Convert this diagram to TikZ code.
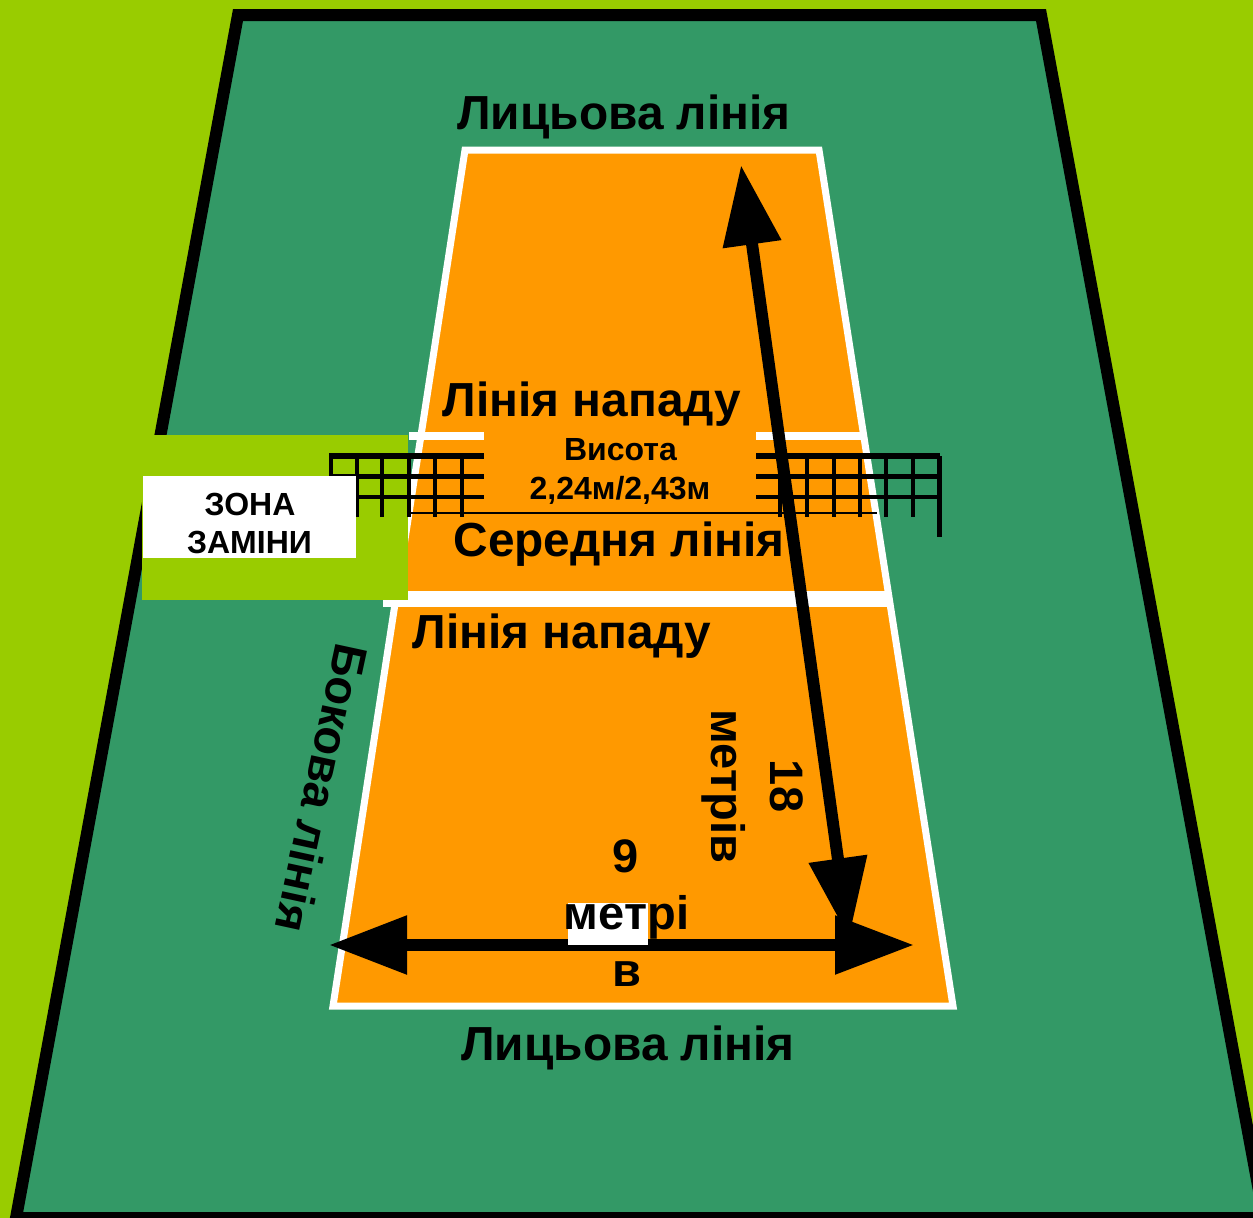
\documentclass[tikz,border=0pt]{standalone}
\usepackage{fontspec}
\setmainfont{Liberation Sans}
\usetikzlibrary{arrows.meta}
\definecolor{bgreen}{HTML}{99CC00}
\definecolor{field}{HTML}{339966}
\definecolor{court}{HTML}{FF9900}
\tikzset{
  lbl/.style={inner sep=0pt,font=\bfseries\fontsize{47.8}{47.8}\selectfont,text=black},
  lblm/.style={inner sep=0pt,font=\bfseries\fontsize{47}{47}\selectfont,text=black},
  lbls/.style={inner sep=0pt,font=\bfseries\fontsize{32}{32}\selectfont,text=black},
  lblz/.style={inner sep=0pt,font=\bfseries\fontsize{32}{32}\selectfont,text=black},
  netthick/.style={line width=6pt},
  netline/.style={line width=4.5pt},
  bigarrow/.style={line width=12pt},
}
\begin{document}
\begin{tikzpicture}[x=1pt,y=-1pt]
\useasboundingbox (0,0) rectangle (1253,1218);
\clip (0,0) rectangle (1253,1218);
\fill[bgreen] (0,0) rectangle (1253,1218);
% field
\draw[fill=field,line width=12pt,miter limit=10] (238,15) -- (1041,15) -- (1264,1218) -- (16,1218) -- cycle;
% court
\draw[fill=court,draw=white,line width=7pt] (465,150) -- (819,150) -- (953,1006) -- (333,1006) -- cycle;
% white lines
\fill[white] (383,591) rectangle (888,607);
\fill[white] (409,432) rectangle (484,440);
\fill[white] (756,432) rectangle (861,440);
% substitution zone
\fill[bgreen] (142,435) rectangle (407.5,599.5);
% net
\foreach \y in {476.5,497}{
  \draw[netline] (329,\y) -- (484,\y);
  \draw[netline] (756,\y) -- (940,\y);
}
\foreach \x in {357,382,409,435,462,780,807,834,860,886,913}{
  \draw[netline] (\x,456) -- (\x,517);
}
\draw[netline] (331,456) -- (331,476);
\draw[netline] (939.5,456) -- (939.5,537);
\draw[netthick] (329,456) -- (484,456);
\draw[netthick] (756,456) -- (940,456);
\draw[line width=2pt] (409,513) -- (877,513);
% arrows
\coordinate (vTop) at (741,165);
\coordinate (vBot) at (849,938);
\coordinate (hL) at (329,945);
\coordinate (hR) at (914,945);
\draw[bigarrow,{Triangle[length=80pt,width=56pt]}-{Triangle[length=80pt,width=56pt]}] (vTop) -- (vBot);
\draw[bigarrow,{Triangle[length=78pt,width=56pt]}-{Triangle[length=79pt,width=56pt]}] (hL) -- (hR);
% white patches
\fill[white] (568,903) rectangle (648,945);
\node[fill=white,minimum width=213pt,minimum height=82pt,inner sep=0pt] (zoneBox) at (249.5,517) {};
\node[lblz] (zone1) at (250,504.5) {ЗОНА};
\node[lblz] (zone2) at (249.5,542.5) {ЗАМІНИ};
% labels
\node[lbl] (top) at (624,117) {Лицьова лінія};
\node[lbl] (bottom) at (628,1048) {Лицьова лінія};
\node[lbl] (att1) at (592,404) {Лінія нападу};
\node[lbl] (att2) at (562,636) {Лінія нападу};
\node[lbl] (mid) at (619,544) {Середня лінія};
\node[lbls] (h1) at (620.5,450) {Висота};
\node[lbls] (h2) at (620,490) {2,24м/2,43м};
\node[lblm] (n9) at (626,856) {9};
\node[lblm] (metr) at (626.5,917) {метрі};
\node[lblm] (v) at (626.5,974) {в};
\node[lblm,rotate=-90] (n18) at (786.5,786) {18};
\node[lblm,rotate=-90] (metriv) at (724,786) {метрів};
\node[lblm,rotate=-102.2] (side) at (322,788) {Бокова лінія};
\end{tikzpicture}
\end{document}
